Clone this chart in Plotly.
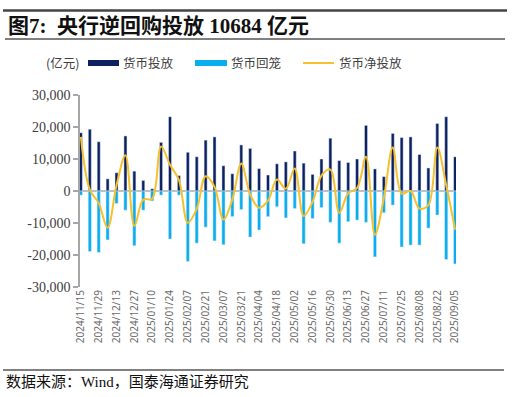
import plotly.graph_objects as go

dates = ["2024/11/15", "2024/11/22", "2024/11/29", "2024/12/06", "2024/12/13", "2024/12/20", "2024/12/27",
         "2025/01/03", "2025/01/10", "2025/01/17", "2025/01/24", "2025/01/31",
         "2025/02/07", "2025/02/14", "2025/02/21", "2025/02/28",
         "2025/03/07", "2025/03/14", "2025/03/21", "2025/03/28",
         "2025/04/04", "2025/04/11", "2025/04/18", "2025/04/25",
         "2025/05/02", "2025/05/09", "2025/05/16", "2025/05/23", "2025/05/30",
         "2025/06/06", "2025/06/13", "2025/06/20", "2025/06/27",
         "2025/07/04", "2025/07/11", "2025/07/18", "2025/07/25",
         "2025/08/01", "2025/08/08", "2025/08/15", "2025/08/22", "2025/08/29",
         "2025/09/05"]

invest = [18200, 19300, 15400, 3800, 5700, 17200, 6200, 3300, 700, 15200, 23200, 4800,
          12100, 10700, 15900, 16900, 7900, 5400, 14400, 13300, 7000, 5000, 8500, 9100,
          12500, 8700, 5200, 10000, 16500, 9500, 8900, 10000, 20500, 6900, 4500, 18000,
          16700, 16900, 11400, 7200, 21100, 23200, 10684]

withdraw = [-1300, -18900, -19200, -15300, -3900, -6000, -17100, -6000, -3100, -1300, -15000, -1300,
            -22000, -16300, -11300, -15600, -16800, -8000, -5800, -14400, -12200, -8000, -4900, -8400,
            -5500, -16500, -8600, -5200, -9800, -16300, -9600, -9100, -9800, -20600, -6800, -4400,
            -17500, -16900, -16900, -11600, -7500, -21400, -22800]

net = [16900, 400, -3800, -11500, 1800, 11200, -10900, -2700, -2400, 13900, 8200, 3500,
       -9900, -5600, 4600, 1300, -8900, -2600, 8600, -1100, -5200, -3000, 3600, 700,
       7000, -7800, -3400, 4800, 6700, -6800, -700, 900, 10700, -13700, -2300, 13600,
       -800, 0, -5500, -4400, 13600, 1800, -12100]

y_ticks = [30000, 20000, 10000, 0, -10000, -20000, -30000]
y_tick_text = ["30,000", "20,000", "10,000", "0", "-10,000", "-20,000", "-30,000"]
x_tick_labels = dates[::2]

NAVY = "#0B2161"
LBLUE = "#0AAEEF"
GOLD = "#F5C12E"

W, H = 512, 397
L, R, T, B = 80, 56, 95, 110
PW, PH = W - L - R, H - T - B


def px(x):
    return (x - L) / PW


def py(y):
    return (H - B - y) / PH


fig = go.Figure()
fig.add_trace(go.Bar(x=dates, y=invest, name="货币投放", marker_color=NAVY, width=0.34))
fig.add_trace(go.Bar(x=dates, y=withdraw, name="货币回笼", marker_color=LBLUE, width=0.36))
fig.add_trace(go.Scatter(x=dates, y=net, name="货币净投放", mode="lines",
                         line=dict(color=GOLD, width=2, shape="spline", smoothing=1.0)))

shapes = [
    dict(type="line", xref="paper", yref="paper", x0=px(3), x1=px(507), y0=py(10.5), y1=py(10.5),
         line=dict(color="#444444", width=2.5)),
    dict(type="line", xref="paper", yref="paper", x0=px(5), x1=px(505), y0=py(39), y1=py(39),
         line=dict(color="#000000", width=1)),
    dict(type="line", xref="paper", yref="paper", x0=px(3), x1=px(504), y0=py(370), y1=py(370),
         line=dict(color="#808080", width=2)),
    # legend swatches
    dict(type="rect", xref="paper", yref="paper", x0=px(88), x1=px(119), y0=py(66), y1=py(60),
         fillcolor=NAVY, line=dict(width=0)),
    dict(type="rect", xref="paper", yref="paper", x0=px(195), x1=px(227), y0=py(66), y1=py(60),
         fillcolor=LBLUE, line=dict(width=0)),
    dict(type="line", xref="paper", yref="paper", x0=px(303), x1=px(334), y0=py(63), y1=py(63),
         line=dict(color=GOLD, width=2)),
]

TXT = "#404040"
ann = [
    dict(text="<b>图7:  央行逆回购投放 10684 亿元</b>", x=px(6), y=py(26), xanchor="left", yanchor="middle",
         font=dict(family="Liberation Serif, Noto Sans CJK SC", size=21, color="#111111")),
    dict(text="(亿元)", x=px(44), y=py(63), xanchor="left", yanchor="middle",
         font=dict(family="Noto Sans CJK SC", size=12.5, color=TXT)),
    dict(text="货币投放", x=px(121), y=py(63), xanchor="left", yanchor="middle",
         font=dict(family="Noto Sans CJK SC", size=12.5, color=TXT)),
    dict(text="货币回笼", x=px(229), y=py(63), xanchor="left", yanchor="middle",
         font=dict(family="Noto Sans CJK SC", size=12.5, color=TXT)),
    dict(text="货币净投放", x=px(337), y=py(63), xanchor="left", yanchor="middle",
         font=dict(family="Noto Sans CJK SC", size=12.5, color=TXT)),
    dict(text="数据来源：Wind，国泰海通证券研究", x=px(4), y=py(382), xanchor="left", yanchor="middle",
         font=dict(family="Liberation Serif, Noto Sans CJK SC", size=15, color="#111111")),
]
for a in ann:
    a.update(xref="paper", yref="paper", showarrow=False)

fig.update_layout(
    width=W, height=H,
    margin=dict(l=L, r=R, t=T, b=B, pad=0),
    paper_bgcolor="white", plot_bgcolor="white",
    barmode="relative", bargap=0.6,
    showlegend=False,
    shapes=shapes, annotations=ann,
    xaxis=dict(type="category", range=[-0.1, 42.1], tickmode="array",
               tickvals=x_tick_labels, ticktext=x_tick_labels, tickangle=-90,
               showgrid=False, showline=False, ticks="", zeroline=False,
               tickfont=dict(family="Noto Sans", size=10, color="#6b6b6b")),
    yaxis=dict(range=[-30000, 30000], tickmode="array", tickvals=y_ticks, ticktext=y_tick_text,
               showgrid=False, showline=True, linecolor="#A6A6A6", linewidth=1.5,
               ticks="outside", ticklen=5, tickcolor="#A6A6A6", tickwidth=1.5,
               zeroline=True, zerolinecolor="#BFBFBF", zerolinewidth=2,
               tickfont=dict(family="Liberation Serif", size=14, color=TXT)),
)

fig.write_html("out.html", config={"displayModeBar": False},
               post_script="document.body.style.margin='0';document.body.style.overflow='hidden';")
